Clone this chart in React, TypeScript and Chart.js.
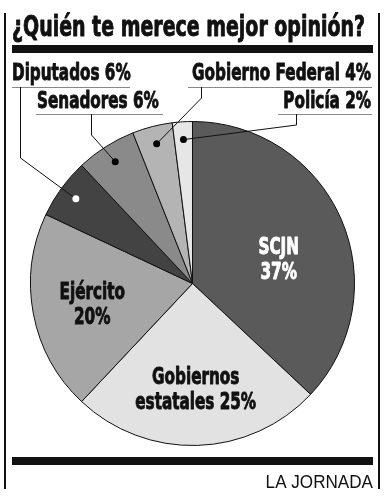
import React, { useEffect, useRef } from "react";
import { Chart, registerables } from "chart.js";

Chart.register(...registerables);

const TITLE = "¿Quién te merece mejor opinión?";
const SOURCE = "LA JORNADA";
const categories = ["SCJN", "Gobiernos estatales", "Ejército", "Diputados", "Senadores", "Gobierno Federal", "Policía"];
const values = [37, 25, 20, 6, 6, 4, 2];
const sliceColors = ["#5a5a5a", "#e2e2e2", "#a6a6a6", "#434343", "#8a8a8a", "#b4b4b4", "#e6e6e6"];
const insideTextColors = ["#ffffff", "#111111", "#111111"];

const NARROW = '"DejaVu Sans Condensed", "Liberation Sans Narrow", sans-serif';
const SX = 0.72;

// layout for outside labels (index in categories -> label anchor + leader route)
const outsideLayout: Record<number, { x: number; y: number; align: CanvasTextAlign; ux1: number; ux2: number; uy: number; lx: number; ly: number; dot: string }> = {
  3: { x: 12, y: 80, align: "left", ux1: 12, ux2: 130, uy: 87, lx: 20, ly: 158, dot: "#ffffff" },
  4: { x: 37, y: 108, align: "left", ux1: 36, ux2: 163, uy: 114, lx: 91, ly: 135, dot: "#000000" },
  5: { x: 371, y: 80, align: "right", ux1: 188, ux2: 372, uy: 87, lx: 201, ly: 98, dot: "#000000" },
  6: { x: 371, y: 108, align: "right", ux1: 278, ux2: 372, uy: 114, lx: 296, ly: 125, dot: "#000000" },
};
const insideLayout: Record<number, { f: number; dy: number }> = {
  0: { f: 0.58, dy: 12 },
  1: { f: 0.63, dy: 2 },
  2: { f: 0.63, dy: 0 },
};

function drawText(ctx: CanvasRenderingContext2D, text: string, x: number, y: number, size: number, sx: number, align: CanvasTextAlign, color: string, maxW?: number) {
  ctx.save();
  ctx.translate(x, y);
  ctx.scale(sx, 1);
  ctx.font = `bold ${size}px ${NARROW}`;
  ctx.textAlign = align;
  ctx.textBaseline = "alphabetic";
  ctx.fillStyle = color;
  ctx.strokeStyle = color;
  ctx.lineWidth = 0.9;
  ctx.lineJoin = "round";
  if (maxW) {
    ctx.fillText(text, 0, 0, maxW / sx);
    ctx.strokeText(text, 0, 0, maxW / sx);
  } else {
    ctx.fillText(text, 0, 0);
    ctx.strokeText(text, 0, 0);
  }
  ctx.restore();
}

const decorPlugin = {
  id: "decor",
  beforeDraw(chart: any) {
    const ctx = chart.ctx as CanvasRenderingContext2D;
    ctx.save();
    ctx.fillStyle = "#ffffff";
    ctx.fillRect(0, 0, chart.width, chart.height);
    ctx.restore();
  },
  afterDraw(chart: any) {
    const ctx = chart.ctx as CanvasRenderingContext2D;
    ctx.save();
    // frame
    ctx.strokeStyle = "#111";
    ctx.lineWidth = 2;
    ctx.beginPath();
    ctx.moveTo(5, 13); ctx.lineTo(5, 489);
    ctx.moveTo(379, 13); ctx.lineTo(379, 489);
    ctx.stroke();
    ctx.fillStyle = "#111";
    ctx.fillRect(12, 45, 361, 8);
    ctx.fillRect(12, 457, 361, 8);
    // title
    drawText(ctx, TITLE, 12, 36, 28, 0.78, "left", "#111", 353);
    // source
    ctx.font = `18px "Liberation Sans", Arial, sans-serif`;
    ctx.textAlign = "right";
    ctx.fillStyle = "#111";
    ctx.save();
    ctx.translate(373, 488);
    ctx.scale(0.95, 1);
    ctx.fillText(SOURCE, 0, 0);
    ctx.restore();

    const meta = chart.getDatasetMeta(0);
    meta.data.forEach((arc: any, i: number) => {
      const p = arc.getProps(["x", "y", "startAngle", "endAngle", "outerRadius"], true);
      const mid = (p.startAngle + p.endAngle) / 2;
      const r = p.outerRadius;
      const val = values[i];
      if (outsideLayout[i]) {
        const L = outsideLayout[i];
        const dx = p.x + Math.cos(mid) * r * 0.89;
        const dy = p.y + Math.sin(mid) * r * 0.89;
        drawText(ctx, `${categories[i]} ${val}%`, L.x, L.y, 23.5, SX, L.align, "#111");
        ctx.strokeStyle = "#888";
        ctx.lineWidth = 1;
        ctx.beginPath();
        ctx.moveTo(L.ux1, L.uy + 0.5); ctx.lineTo(L.ux2, L.uy + 0.5);
        ctx.stroke();
        ctx.strokeStyle = "#111";
        ctx.beginPath();
        ctx.moveTo(L.lx + 0.5, L.uy);
        ctx.lineTo(L.lx + 0.5, L.ly);
        ctx.lineTo(dx, dy);
        ctx.stroke();
        ctx.fillStyle = L.dot;
        ctx.beginPath();
        ctx.arc(dx, dy, 3.5, 0, Math.PI * 2);
        ctx.fill();
      } else {
        const I = insideLayout[i] || { f: 0.6, dy: 0 };
        const cx = p.x + Math.cos(mid) * r * I.f;
        const cy = p.y + Math.sin(mid) * r * I.f + I.dy;
        const words = categories[i].split(" ");
        const lines = words.length > 1 ? [words[0], `${words.slice(1).join(" ")} ${val}%`] : [categories[i], `${val}%`];
        const col = insideTextColors[i] || "#111";
        drawText(ctx, lines[0], cx, cy - 4, 23.5, SX, "center", col);
        drawText(ctx, lines[1], cx, cy + 21, 23.5, SX, "center", col);
      }
    });
    ctx.restore();
  },
};

export default function App() {
  const ref = useRef<HTMLCanvasElement | null>(null);
  useEffect(() => {
    if (!ref.current) return;
    const chart = new Chart(ref.current, {
      type: "pie",
      data: {
        labels: categories,
        datasets: [
          {
            data: values,
            backgroundColor: sliceColors,
            borderColor: "#111111",
            borderWidth: 1,
            hoverOffset: 0,
          },
        ],
      },
      options: {
        responsive: false,
        animation: false,
        events: [],
        layout: { padding: { left: 30, right: 29, top: 121, bottom: 54 } },
        plugins: { legend: { display: false }, tooltip: { enabled: false }, title: { display: false } },
      },
      plugins: [decorPlugin],
    });
    return () => chart.destroy();
  }, []);
  return (
    <div style={{ position: "absolute", left: 0, top: 0, width: 384, height: 500, background: "#fff" }}>
      <canvas ref={ref} width={384} height={500} style={{ display: "block" }} />
    </div>
  );
}
